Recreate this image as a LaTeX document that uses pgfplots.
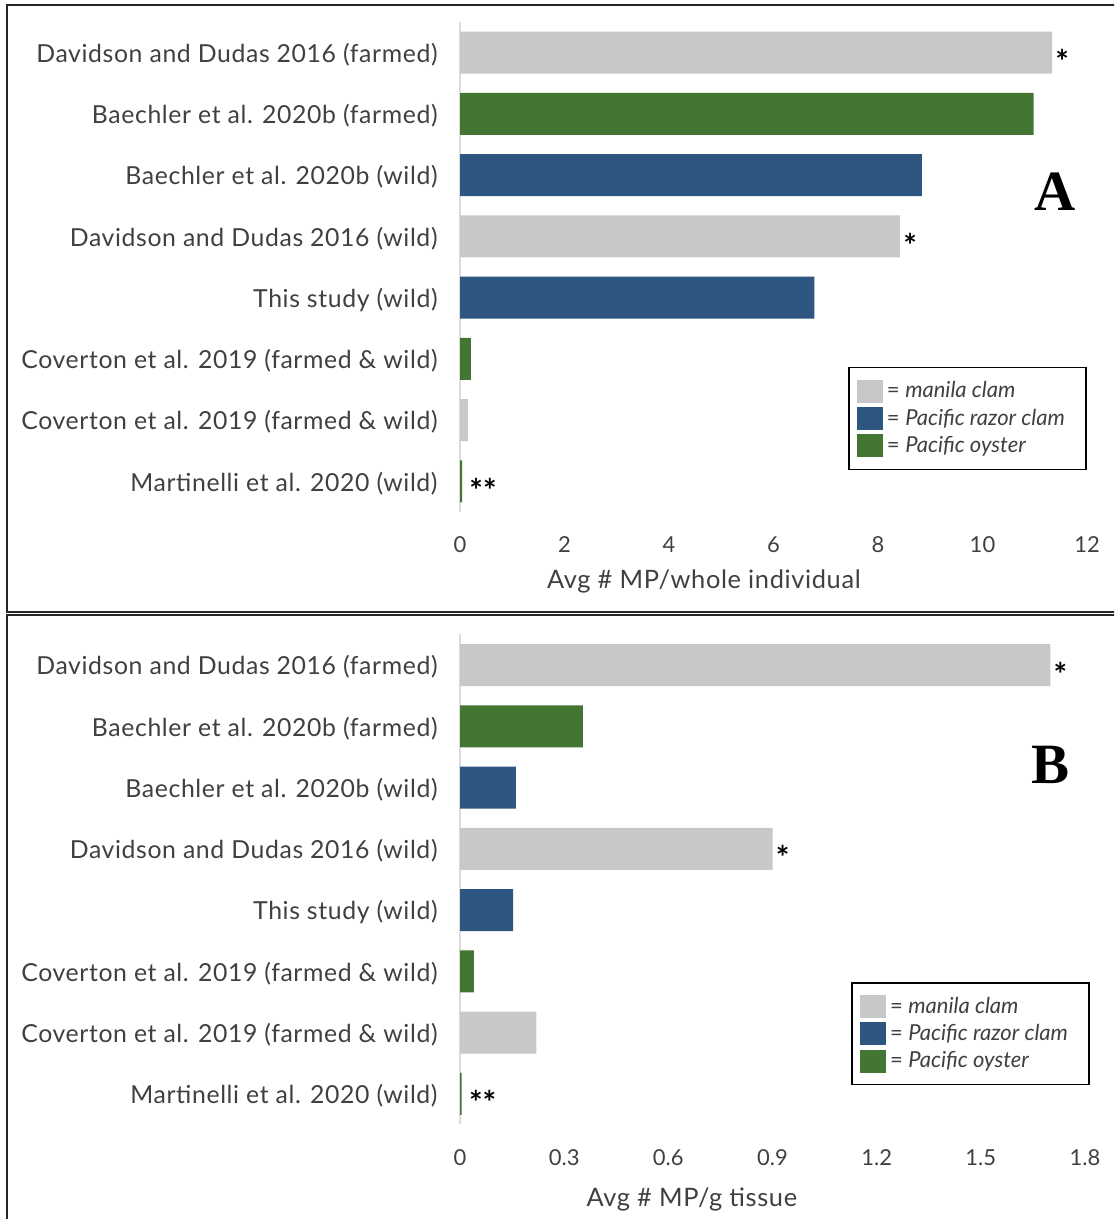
\documentclass[border=0pt]{standalone}
\usepackage{pgfplots}
\pgfplotsset{compat=1.18}
\usepackage{fontspec}
\setmainfont{Lato}
\newfontfamily\labelfont[LetterSpace=2.5]{Lato}
\newfontfamily\letterfont{Liberation Serif}

\definecolor{clamgray}{HTML}{C8C8C8}
\definecolor{razorblue}{HTML}{2D5680}
\definecolor{oystergreen}{HTML}{437632}
\definecolor{txtgray}{HTML}{404040}
\definecolor{axisgray}{HTML}{DCDCDC}

\tikzset{starmark/.style={anchor=base west, font=\fontsize{16}{16}\selectfont\bfseries, inner sep=1.5pt, yshift=-10.5pt}}

\pgfplotsset{
  panel/.style={
    scale only axis, anchor=north west,
    height=245pt,
    ymin=-0.5, ymax=7.5, y dir=reverse,
    ytick={0,...,7},
    yticklabels={Davidson and Dudas 2016 (farmed),
                 Baechler et al. 2020b (farmed),
                 Baechler et al. 2020b (wild),
                 Davidson and Dudas 2016 (wild),
                 This study (wild),
                 Coverton et al. 2019 (farmed \& wild),
                 Coverton et al. 2019 (farmed \& wild),
                 Martinelli et al. 2020 (wild)},
    axis y line*=left, axis x line*=bottom,
    y axis line style={draw=axisgray, line width=1pt, -},
    x axis line style={draw=none},
    major tick length=0pt, tick style={draw=none},
    yticklabel style={font=\labelfont\fontsize{12.4}{14}\selectfont, text=txtgray, inner sep=0pt, xshift=-11pt, yshift=-1pt},
    xticklabel style={font=\fontsize{11}{13}\selectfont, text=txtgray, anchor=center, yshift=-16.5pt},
    xlabel style={font=\labelfont\fontsize{12.7}{14}\selectfont, text=txtgray, anchor=center},
    clip=false,
    legend cell align=left,
    legend style={draw=black, line width=0.75pt, anchor=north west,
      font=\fontsize{11}{12}\selectfont\color{txtgray},
      inner xsep=4pt, inner ysep=5pt, row sep=0pt},
    legend image code/.code={\fill[##1] (0pt,-5.75pt) rectangle (13pt,5.75pt);},
  },
  bars/.style={xbar, bar width=21pt, bar shift=0pt, draw=none, fill=#1},
}

\begin{document}
\begin{tikzpicture}
\useasboundingbox (0,0) rectangle (557pt,-609.5pt);
\clip (0,0) rectangle (557pt,-609.5pt);

% panel frames
\draw[line width=1pt, black!85] (560pt,-2.3pt) -- (3.6pt,-2.3pt) -- (3.6pt,-305.8pt) -- (560pt,-305.8pt);
\draw[line width=1pt, black!85] (560pt,-307.7pt) -- (3.6pt,-307.7pt) -- (3.6pt,-615pt);

% Panel A: microplastics per whole individual
\begin{axis}[panel, at={(230pt,-11pt)}, width=313.5pt,
  xmin=0, xmax=12, xtick={0,2,4,6,8,10,12},
  xticklabels={0,2,4,6,8,10,12},
  xlabel={Avg \# MP/whole individual},
  xlabel style={at={(axis description cs:0.389,-0.141)}},
  legend style={at={(axis description cs:0.619,0.296)}},
]
\addplot[bars=clamgray] coordinates {(11.33,0) (8.42,3) (0.15,6)};
\addplot[bars=razorblue] coordinates {(8.84,2) (6.78,4)};
\addplot[bars=oystergreen] coordinates {(10.98,1) (0.21,5) (0.04,7)};
\legend{= \textit{manila clam}, = \textit{Pacific razor clam}\kern4.5pt\relax, = \textit{Pacific oyster}}
\node[starmark] at (axis cs:11.33,0) {*};
\node[starmark] at (axis cs:8.42,3) {*};
\node[starmark, xshift=2pt] at (axis cs:0.04,7) {**};
\end{axis}
\node[anchor=base, font=\letterfont\bfseries\fontsize{28.5}{30}\selectfont] at (527.5pt,-105.5pt) {A};

% Panel B: microplastics per gram of tissue
\begin{axis}[panel, at={(230pt,-317.2pt)}, width=312.5pt,
  xmin=0, xmax=1.8, xtick={0,0.3,0.6,0.9,1.2,1.5,1.8},
  xticklabels={0,0.3,0.6,0.9,1.2,1.5,1.8},
  xlabel={Avg \# MP/g tissue},
  xlabel style={at={(axis description cs:0.371,-0.153)}},
  legend style={at={(axis description cs:0.626,0.290)}},
]
\addplot[bars=clamgray] coordinates {(1.70,0) (0.90,3) (0.22,6)};
\addplot[bars=razorblue] coordinates {(0.161,2) (0.153,4)};
\addplot[bars=oystergreen] coordinates {(0.354,1) (0.04,5) (0.005,7)};
\legend{= \textit{manila clam}, = \textit{Pacific razor clam}\kern4.5pt\relax, = \textit{Pacific oyster}}
\node[starmark] at (axis cs:1.70,0) {*};
\node[starmark] at (axis cs:0.90,3) {*};
\node[starmark, xshift=2pt] at (axis cs:0.005,7) {**};
\end{axis}
\node[anchor=base, font=\letterfont\bfseries\fontsize{28.5}{30}\selectfont] at (525pt,-391.5pt) {B};
\end{tikzpicture}
\end{document}
